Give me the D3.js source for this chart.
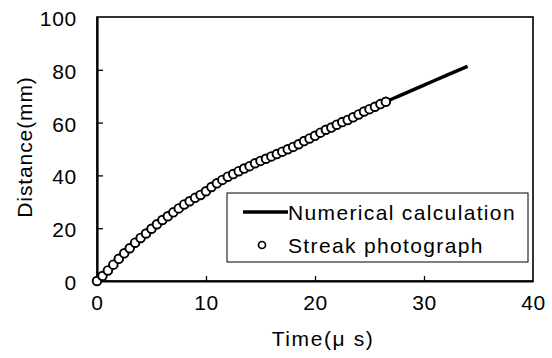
<!DOCTYPE html>
<html>
<head>
<meta charset="utf-8">
<script src="https://cdn.jsdelivr.net/npm/d3@7/dist/d3.min.js"></script>
<style>
  body { margin: 0; background: #fff; }
  text { font-family: "Liberation Sans", Arial, sans-serif; fill: #000; }
</style>
</head>
<body>
<script>
// numerical calculation curve (time in us, distance in mm)
var calcTime = [0, 1, 2, 3, 4, 5, 6, 7, 8, 9, 10, 12, 14, 16, 18, 20, 22, 24, 26, 28, 30, 32, 34];
var calcDist = [0, 4.0, 8.4, 12.4, 16.3, 19.8, 23.1, 26.0, 29.0, 31.5, 34.0, 39.5, 43.5, 47.2, 50.8, 55.0, 59.2, 63.1, 67.0, 70.6, 74.2, 77.8, 81.3];

// streak photograph points
var streakTime = [0, 0.5, 1, 1.5, 2, 2.5, 3, 3.5, 4, 4.5, 5, 5.5, 6, 6.5, 7, 7.5, 8, 8.5, 9, 9.5,
  10, 10.5, 11, 11.5, 12, 12.5, 13, 13.5, 14, 14.5, 15, 15.5, 16, 16.5, 17, 17.5, 18, 18.5, 19, 19.5,
  20, 20.5, 21, 21.5, 22, 22.5, 23, 23.5, 24, 24.5, 25, 25.5, 26, 26.5];
var streakDist = [0, 1.9, 4.0, 6.2, 8.4, 10.5, 12.4, 14.5, 16.3, 18.0, 19.8, 21.5, 23.1, 24.5, 26.0, 27.5, 29.0, 30.2, 31.5, 32.6,
  34.0, 35.6, 37.0, 38.3, 39.5, 40.5, 41.6, 42.6, 43.5, 44.6, 45.5, 46.3, 47.2, 48.1, 49.0, 49.9, 50.8, 51.8, 53.0, 54.0,
  55.0, 56.2, 57.3, 58.1, 59.2, 60.2, 61.0, 62.0, 63.1, 64.2, 65.1, 66.0, 67.0, 67.9];

var xTicks = [0, 10, 20, 30, 40];
var yTicks = [0, 20, 40, 60, 80, 100];
var legendLabels = ["Numerical calculation", "Streak photograph"];

const W = 552, H = 358;
const margin = { top: 17, right: 19, bottom: 77, left: 97 };
const width = W - margin.left - margin.right;
const height = H - margin.top - margin.bottom;

const svg = d3.select("body").append("svg")
    .attr("width", W)
    .attr("height", H);

const g = svg.append("g")
    .attr("transform", "translate(" + margin.left + "," + margin.top + ")");

var xScale = d3.scaleLinear().domain([0, 40]).range([0, width]);
var yScale = d3.scaleLinear().domain([0, 100]).range([height, 0]);

// plot frame
g.append("rect")
    .attr("width", width).attr("height", height)
    .attr("fill", "#fff").attr("stroke", "#000").attr("stroke-width", 1.6);

// axes with inward ticks
var xAxis = d3.axisBottom(xScale).tickValues(xTicks).tickSizeInner(-5).tickSizeOuter(0).tickPadding(14);
var yAxis = d3.axisLeft(yScale).tickValues(yTicks).tickSizeInner(-6).tickSizeOuter(0).tickPadding(20);

var gx = g.append("g").attr("transform", "translate(0," + height + ")").call(xAxis);
var gy = g.append("g").call(yAxis);

[gx, gy].forEach(function (a) {
    a.select(".domain").attr("stroke", "#000").attr("stroke-width", 2.2);
    a.selectAll(".tick line").attr("stroke", "#000").attr("stroke-width", 1.3);
    a.selectAll(".tick text")
        .style("font-family", "'Liberation Sans', Arial, sans-serif")
        .style("font-size", "21px")
        .style("letter-spacing", "0.7px")
        .attr("fill", "#000");
});
gx.selectAll(".tick text").attr("dy", "0.71em");
gy.selectAll(".tick text").attr("dy", "0.4em");
// hide end ticks sitting on the frame
gx.selectAll(".tick line").filter(function (d) { return d === 0 || d === 40; }).remove();
gy.selectAll(".tick line").filter(function (d) { return d === 0 || d === 100; }).remove();

// axis titles
svg.append("text")
    .attr("x", 323).attr("y", 346)
    .attr("text-anchor", "middle")
    .attr("font-size", "21px")
    .style("letter-spacing", "1.6px")
    .text("Time(\u03bc s)");

svg.append("text")
    .attr("transform", "translate(32,147) rotate(-90)")
    .attr("text-anchor", "middle")
    .attr("font-size", "21px")
    .style("letter-spacing", "0.9px")
    .text("Distance(mm)");

// numerical curve
var calcData = calcTime.map(function (t, i) { return [t, calcDist[i]]; });
var line = d3.line()
    .x(function (d) { return xScale(d[0]); })
    .y(function (d) { return yScale(d[1]); })
    .curve(d3.curveMonotoneX);

g.append("path")
    .datum(calcData)
    .attr("d", line)
    .attr("fill", "none")
    .attr("stroke", "#000")
    .attr("stroke-width", 3.5);

// streak circles
var streakData = streakTime.map(function (t, i) { return { t: t, d: streakDist[i] }; });
g.selectAll("circle.pt")
    .data(streakData)
    .enter().append("circle")
    .attr("class", "pt")
    .attr("cx", function (d) { return xScale(d.t); })
    .attr("cy", function (d) { return yScale(d.d); })
    .attr("r", 4.3)
    .attr("fill", "#fff")
    .attr("stroke", "#000")
    .attr("stroke-width", 1.9);

// legend
var leg = svg.append("g").attr("transform", "translate(227,193)");
leg.append("rect")
    .attr("width", 301).attr("height", 69)
    .attr("fill", "#fff").attr("stroke", "#000").attr("stroke-width", 1);
leg.append("line")
    .attr("x1", 16).attr("x2", 61).attr("y1", 19).attr("y2", 19)
    .attr("stroke", "#000").attr("stroke-width", 3.5);
leg.append("circle")
    .attr("cx", 35).attr("cy", 52).attr("r", 3.5)
    .attr("fill", "#fff").attr("stroke", "#000").attr("stroke-width", 1.7);
leg.selectAll("text.lab")
    .data(legendLabels)
    .enter().append("text")
    .attr("class", "lab")
    .attr("x", 61)
    .attr("y", function (d, i) { return 27 + i * 33; })
    .attr("font-size", "21px")
    .style("letter-spacing", "1.35px")
    .text(function (d) { return d; });
</script>
</body>
</html>
